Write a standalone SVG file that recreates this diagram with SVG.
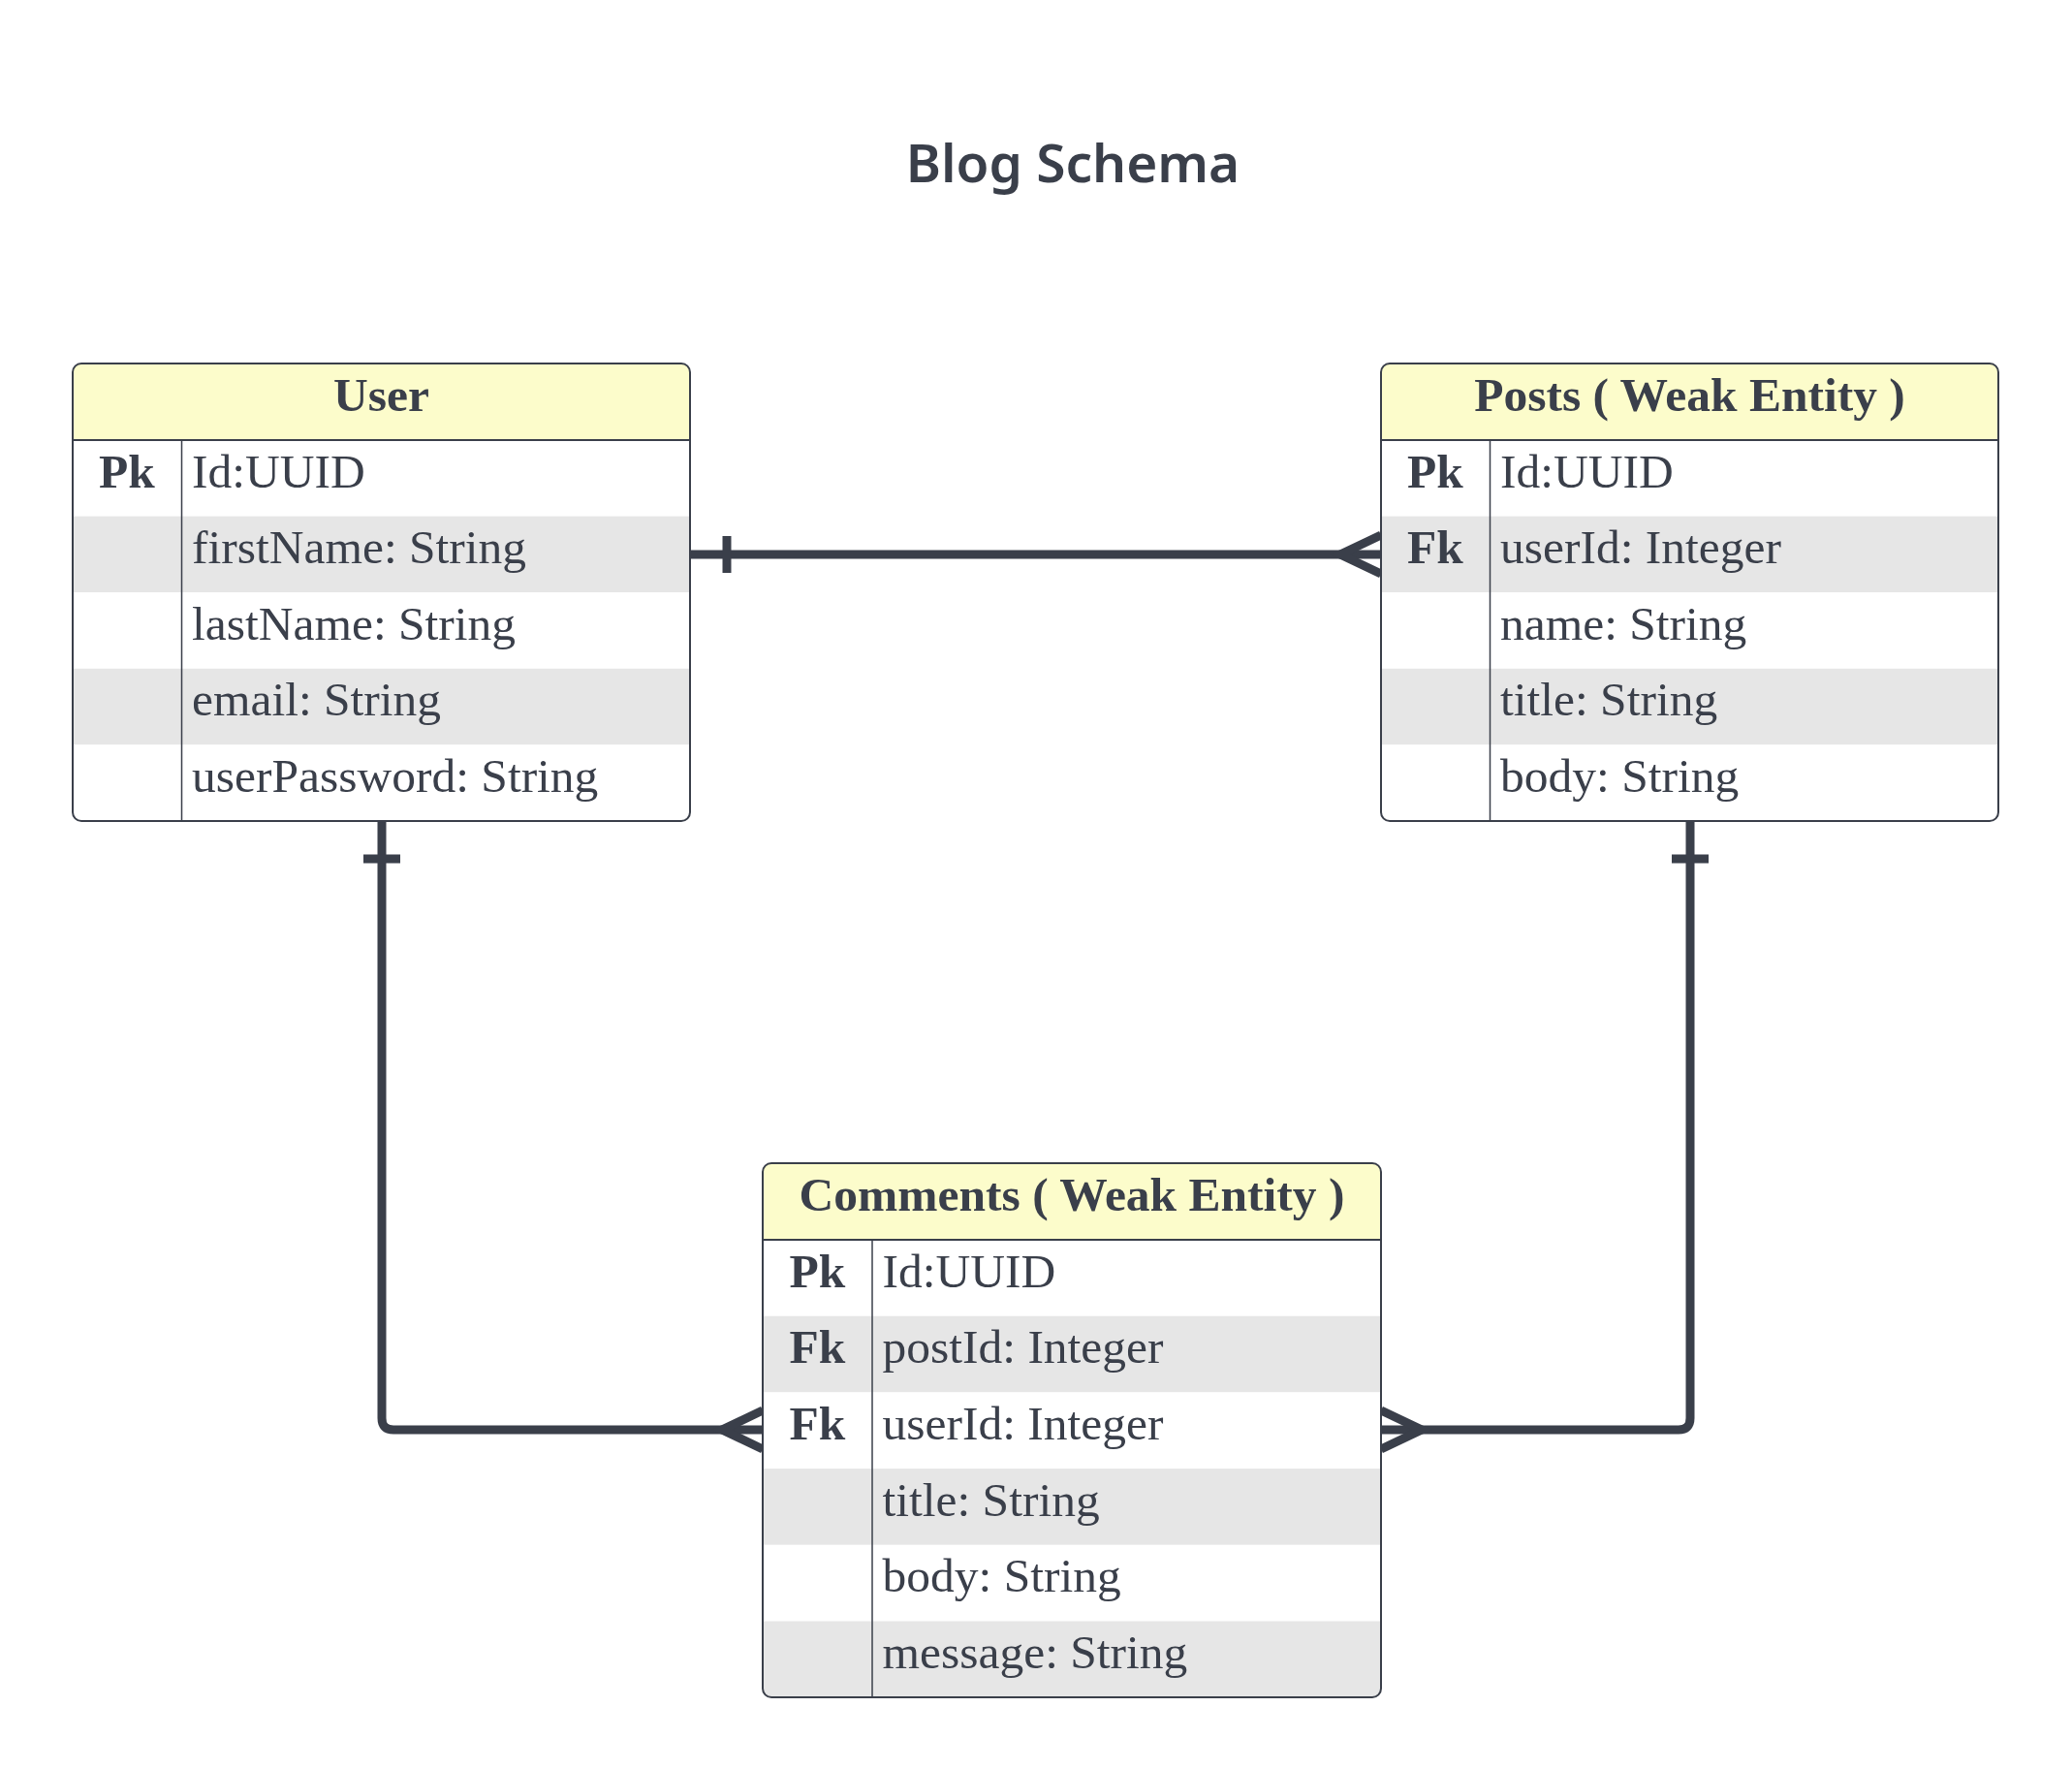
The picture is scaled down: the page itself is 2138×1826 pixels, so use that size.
<svg xmlns="http://www.w3.org/2000/svg" width="2138" height="1826" viewBox="0 0 2138 1826">
<style>
.bg{fill:#ffffff}
.hdr{fill:#fcfccb}
.alt{fill:#e6e6e6}
.wht{fill:#ffffff}
.frame{fill:none;stroke:#3a3f4a;stroke-width:2}
.sep{stroke:#3a3f4a;stroke-width:2}
.div{stroke:#3a3f4a;stroke-width:1.5}
.t{font-family:"Liberation Serif","Times New Roman",serif;font-size:49.5px;fill:#3a3f4a}
.b{font-weight:bold}
.c{text-anchor:middle}
.title{font-family:"Comic Sans MS","Noto Sans",sans-serif;font-size:55px;font-weight:600;fill:#3a3f4a;text-anchor:middle}
.conn{fill:none;stroke:#3a3f4a;stroke-width:9;stroke-linejoin:round}
.mk{fill:none;stroke:#3a3f4a;stroke-width:9}
</style>
<defs>
<clipPath id="cu"><rect x="75" y="375" width="637" height="472" rx="9"/></clipPath>
<clipPath id="cp"><rect x="1425" y="375" width="637" height="472" rx="9"/></clipPath>
<clipPath id="cc"><rect x="787" y="1200" width="638" height="551" rx="9"/></clipPath>
</defs>
<rect class="bg" x="0" y="0" width="2138" height="1826"/>
<text class="title" x="1107" y="188">Blog Schema</text>

<g id="connectors">
<path class="conn" d="M712,572 H1425"/>
<path class="mk" d="M750,553 V591"/>
<path class="mk" d="M1425,552 L1383,572 L1425,592"/>
<path class="conn" d="M394,847 V1463 Q394,1475 406,1475 H787"/>
<path class="mk" d="M375,886 H413"/>
<path class="mk" d="M787,1455 L745,1475 L787,1495"/>
<path class="conn" d="M1744,847 V1463 Q1744,1475 1732,1475 H1425"/>
<path class="mk" d="M1725,886 H1763"/>
<path class="mk" d="M1425,1455 L1467,1475 L1425,1495"/>
</g>

<g id="user">
<g clip-path="url(#cu)">
<rect class="hdr" x="75" y="375" width="637" height="79"/>
<rect class="wht" x="75" y="454" width="637" height="78.6"/>
<rect class="alt" x="75" y="532.6" width="637" height="78.6"/>
<rect class="wht" x="75" y="611.2" width="637" height="78.6"/>
<rect class="alt" x="75" y="689.8" width="637" height="78.6"/>
<rect class="wht" x="75" y="768.4" width="637" height="78.6"/>
</g>
<line class="sep" x1="75" y1="454" x2="712" y2="454"/>
<line class="div" x1="187.5" y1="454" x2="187.5" y2="847"/>
<rect class="frame" x="75" y="375" width="637" height="472" rx="9"/>
<text class="t b c" x="393.5" y="423.5">User</text>
<text class="t b c" x="131" y="502.5">Pk</text>
<text class="t" x="198" y="502.5">Id:UUID</text>
<text class="t" x="198" y="581.1">firstName: String</text>
<text class="t" x="198" y="659.7">lastName: String</text>
<text class="t" x="198" y="738.3">email: String</text>
<text class="t" x="198" y="816.9">userPassword: String</text>
</g>

<g id="posts">
<g clip-path="url(#cp)">
<rect class="hdr" x="1425" y="375" width="637" height="79"/>
<rect class="wht" x="1425" y="454" width="637" height="78.6"/>
<rect class="alt" x="1425" y="532.6" width="637" height="78.6"/>
<rect class="wht" x="1425" y="611.2" width="637" height="78.6"/>
<rect class="alt" x="1425" y="689.8" width="637" height="78.6"/>
<rect class="wht" x="1425" y="768.4" width="637" height="78.6"/>
</g>
<line class="sep" x1="1425" y1="454" x2="2062" y2="454"/>
<line class="div" x1="1537.5" y1="454" x2="1537.5" y2="847"/>
<rect class="frame" x="1425" y="375" width="637" height="472" rx="9"/>
<text class="t b c" x="1743.5" y="423.5">Posts ( Weak Entity )</text>
<text class="t b c" x="1481" y="502.5">Pk</text>
<text class="t b c" x="1481" y="581.1">Fk</text>
<text class="t" x="1548" y="502.5">Id:UUID</text>
<text class="t" x="1548" y="581.1">userId: Integer</text>
<text class="t" x="1548" y="659.7">name: String</text>
<text class="t" x="1548" y="738.3">title: String</text>
<text class="t" x="1548" y="816.9">body: String</text>
</g>

<g id="comments">
<g clip-path="url(#cc)">
<rect class="hdr" x="787" y="1200" width="638" height="79"/>
<rect class="wht" x="787" y="1279" width="638" height="78.7"/>
<rect class="alt" x="787" y="1357.7" width="638" height="78.7"/>
<rect class="wht" x="787" y="1436.4" width="638" height="78.7"/>
<rect class="alt" x="787" y="1515.1" width="638" height="78.7"/>
<rect class="wht" x="787" y="1593.8" width="638" height="78.7"/>
<rect class="alt" x="787" y="1672.5" width="638" height="78.7"/>
</g>
<line class="sep" x1="787" y1="1279" x2="1425" y2="1279"/>
<line class="div" x1="900" y1="1279" x2="900" y2="1751"/>
<rect class="frame" x="787" y="1200" width="638" height="551" rx="9"/>
<text class="t b c" x="1106" y="1248.5">Comments ( Weak Entity )</text>
<text class="t b c" x="843.5" y="1327.5">Pk</text>
<text class="t b c" x="843.5" y="1406.2">Fk</text>
<text class="t b c" x="843.5" y="1484.9">Fk</text>
<text class="t" x="910.5" y="1327.5">Id:UUID</text>
<text class="t" x="910.5" y="1406.2">postId: Integer</text>
<text class="t" x="910.5" y="1484.9">userId: Integer</text>
<text class="t" x="910.5" y="1563.6">title: String</text>
<text class="t" x="910.5" y="1642.3">body: String</text>
<text class="t" x="910.5" y="1721">message: String</text>
</g>
</svg>
